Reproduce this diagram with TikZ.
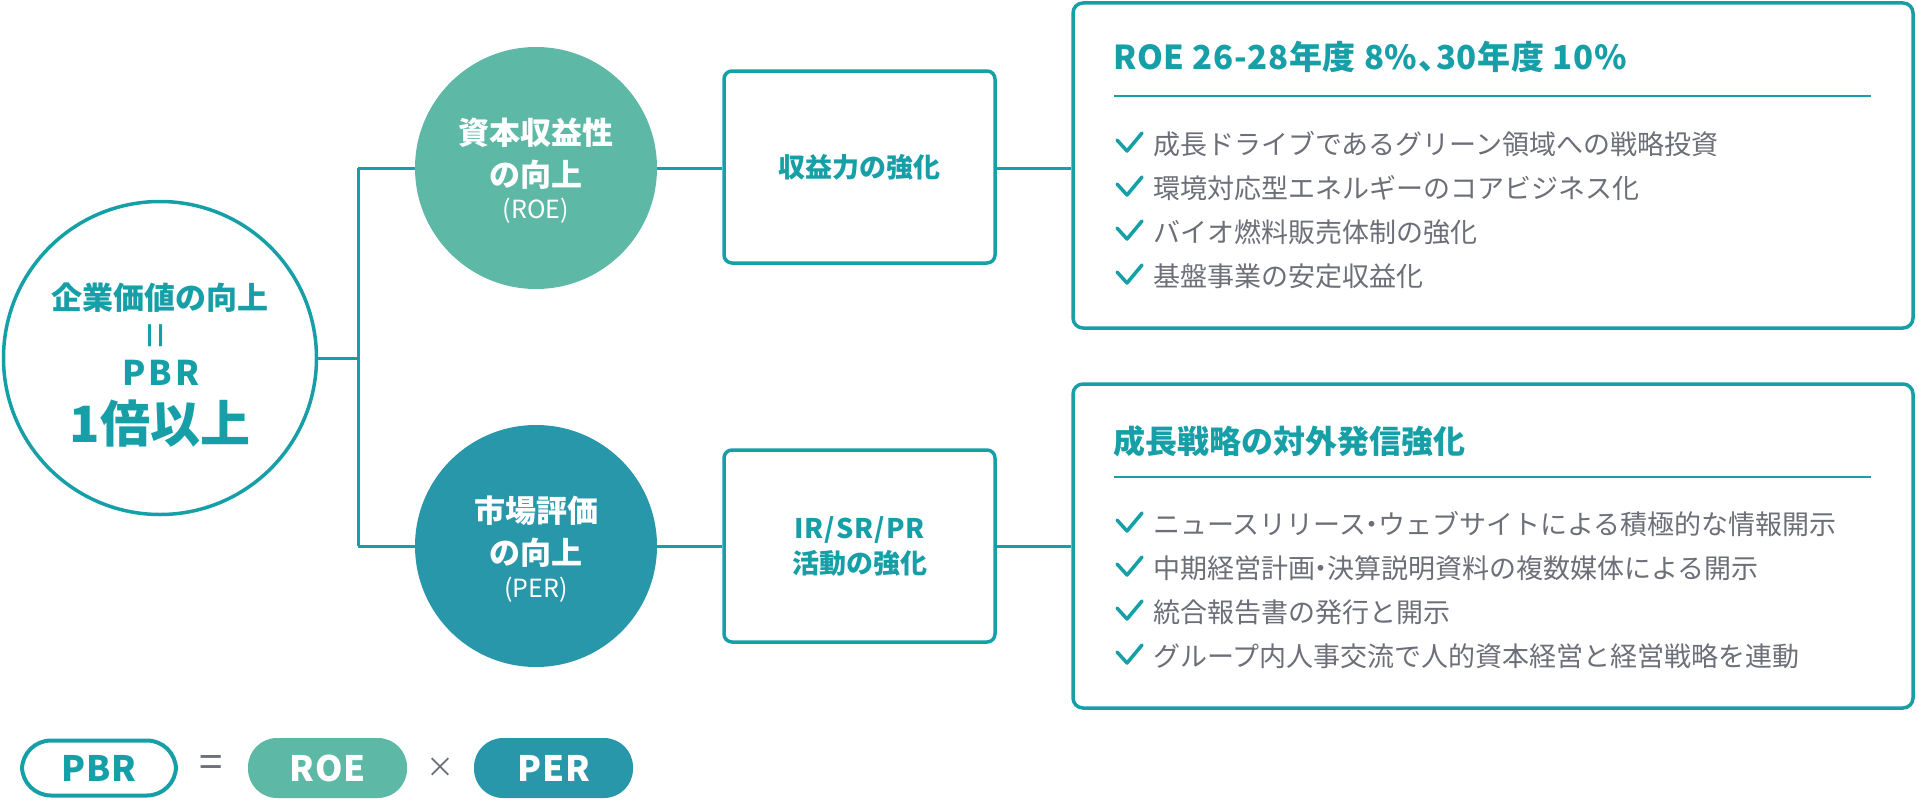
\documentclass[tikz,border=0pt]{standalone}
\usepackage{fontspec}
\setmainfont{Noto Sans CJK JP}
\usepackage{graphicx}
\newcommand\pxfont[1]{\fontsize{#1pt}{#1pt}\selectfont}
\newcommand\hdot{\kern-0.28em・\kern-0.28em}
\newcommand\hcomma{、\kern-0.45em}
\definecolor{teal}{RGB}{22,159,167}
\definecolor{roegreen}{RGB}{93,184,166}
\definecolor{perteal}{RGB}{40,151,170}
\definecolor{bodygray}{RGB}{108,110,120}
\tikzset{
  conn/.style={draw=teal, line width=3pt},
  mainbox/.style={draw=teal, line width=3.5pt, rounded corners=8pt, minimum width=271pt, minimum height=192pt, inner sep=0pt, text=teal, font=\pxfont{27}\bfseries, align=center},
  bigbox/.style={draw=teal, line width=3.5pt, rounded corners=10pt, minimum width=840pt, inner sep=0pt},
  bcircle/.style={circle, minimum size=242pt, inner sep=0pt, outer sep=0pt},
  ctext/.style={text=white, font=\pxfont{31}\bfseries, inner sep=0pt},
  csub/.style={text=white, font=\pxfont{25}, inner sep=0pt},
  title/.style={anchor=west, text=teal, font=\pxfont{32}\bfseries, inner sep=0pt},
  item/.style={anchor=west, text=bodygray, font=\pxfont{27}, inner sep=0pt},
  rule/.style={draw=teal, line width=2pt},
  pill/.style={rounded corners=29pt, minimum width=159pt, minimum height=60pt, inner sep=0pt, font=\pxfont{35}\bfseries\addfontfeature{LetterSpace=3}},
  chk/.pic={\draw[teal, line width=3.5pt, line cap=round, line join=round] (-12,-4) -- (-2,7) -- (13,-11);}
}
\begin{document}
\begin{tikzpicture}[x=1pt,y=-1pt]
\useasboundingbox (0,0) rectangle (1918,800);

% main circle
\node[circle, draw=teal, line width=3.5pt, minimum size=313pt, inner sep=0pt, outer sep=0pt] (main) at (160,358) {};
\node[text=teal, font=\pxfont{31}\bfseries, inner sep=0pt] (mainA) at (160,298) {企業価値の向上};
\node[text=teal, font=\pxfont{46}, inner sep=0pt] (mainEq) at (160,336) {\rotatebox{90}{=}};
\node[text=teal, font=\pxfont{34}\bfseries\addfontfeature{LetterSpace=8}, inner sep=0pt] (mainB) at (161,373) {PBR};
\node[text=teal, font=\pxfont{50}\bfseries, inner sep=0pt] (mainC) at (160,424) {1倍以上};

% second level circles
\node[bcircle, fill=roegreen] (roe) at (536,168) {};
\node[ctext] (roeA) at (536,133) {資本収益性};
\node[ctext] (roeB) at (536,175) {の向上};
\node[csub] (roeC) at (536,211) {(ROE)};

\node[bcircle, fill=perteal] (per) at (536,546) {};
\node[ctext] (perA) at (536,511) {市場評価};
\node[ctext] (perB) at (536,553) {の向上};
\node[csub] (perC) at (536,590) {(PER)};

% third level boxes
\node[mainbox] (r1) at (859.5,167) {収益力の強化};
\node[mainbox] (r2) at (859.5,546) {{\addfontfeature{LetterSpace=4}IR/SR/PR}\\[6pt]活動の強化};

% big boxes
\node[bigbox, minimum height=325pt] (b1) at (1493,165.5) {};
\node[bigbox, minimum height=324pt] (b2) at (1493,546) {};

% connectors
\coordinate (jn) at (358,358);
\draw[conn] (main.east) -- (jn);
\draw[conn] (roe.west -| jn) -- (per.west -| jn);
\draw[conn] (roe.west -| jn) -- (roe.west);
\draw[conn] (per.west -| jn) -- (per.west);
\draw[conn] (roe.east) -- (roe.east -| r1.west);
\draw[conn] (per.east) -- (per.east -| r2.west);
\draw[conn] (roe.east -| r1.east) -- (roe.east -| b1.west);
\draw[conn] (per.east -| r2.east) -- (per.east -| b2.west);

% box 1 content
\node[title, font=\pxfont{33}\bfseries\addfontfeature{LetterSpace=2}] (t1) at (1113,57) {ROE 26-28年度 8\%\hcomma 30年度 10\%};
\draw[rule] (1114,96) -- (1871,96);
\pic at (1129,144) {chk};
\node[item] (i11) at (1153,144) {成長ドライブであるグリーン領域への戦略投資};
\pic at (1129,188) {chk};
\node[item] (i12) at (1153,188) {環境対応型エネルギーのコアビジネス化};
\pic at (1129,232) {chk};
\node[item] (i13) at (1153,232) {バイオ燃料販売体制の強化};
\pic at (1129,276) {chk};
\node[item] (i14) at (1153,276) {基盤事業の安定収益化};

% box 2 content
\node[title] (t2) at (1113,441) {成長戦略の対外発信強化};
\draw[rule] (1114,477) -- (1871,477);
\pic at (1129,524) {chk};
\node[item] (i21) at (1153,524) {ニュースリリース\hdot ウェブサイトによる積極的な情報開示};
\pic at (1129,568) {chk};
\node[item] (i22) at (1153,568) {中期経営計画\hdot 決算説明資料の複数媒体による開示};
\pic at (1129,612) {chk};
\node[item] (i23) at (1153,612) {統合報告書の発行と開示};
\pic at (1129,656) {chk};
\node[item] (i24) at (1153,656) {グループ内人事交流で人的資本経営と経営戦略を連動};

% legend
\node[pill, draw=teal, line width=4pt, text=teal, minimum width=154pt, minimum height=55pt] (lpbr) at (99,768) {PBR};
\node[text=bodygray, font=\pxfont{42}, inner sep=0pt] (leq) at (211,767) {=};
\node[pill, fill=roegreen, text=white] (lroe) at (327.5,768) {ROE};
\node[text=bodygray, font=\pxfont{28}, inner sep=0pt] (ltimes) at (440,768) {×};
\node[pill, fill=perteal, text=white] (lper) at (553.5,768) {PER};
\end{tikzpicture}
\end{document}
